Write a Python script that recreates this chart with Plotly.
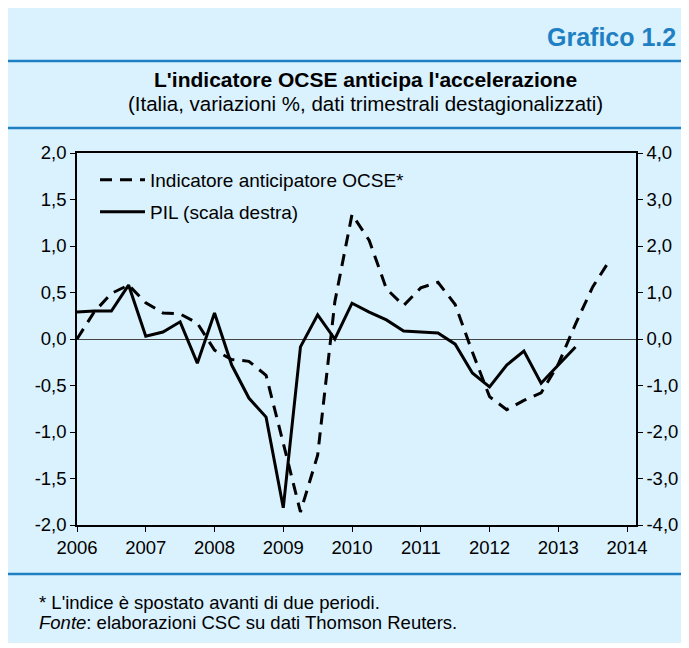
import plotly.graph_objects as go

# ---- data ----
quarters = [2006 + i / 4 for i in range(32)]
ocse = [0.00, 0.29, 0.49, 0.58, 0.39, 0.28, 0.27, 0.17,
        -0.12, -0.22, -0.24, -0.39, -1.12, -1.86, -1.25, 0.40,
        1.34, 1.06, 0.54, 0.36, 0.55, 0.61, 0.37, -0.14,
        -0.62, -0.76, -0.66, -0.58, -0.27, 0.16, 0.56, 0.85]
pil = [0.58, 0.60, 0.60, 1.16, 0.06, 0.15, 0.37, -0.52,
       0.56, -0.56, -1.27, -1.68, -3.63, -0.17, 0.52, 0.00,
       0.77, 0.58, 0.41, 0.17, 0.15, 0.13, -0.11, -0.73,
       -1.03, -0.56, -0.26, -0.95, -0.56, -0.17]
year_ticks = [2006, 2007, 2008, 2009, 2010, 2011, 2012, 2013, 2014]
year_labels = [str(y) for y in year_ticks]
left_ticks = [-2.0, -1.5, -1.0, -0.5, 0.0, 0.5, 1.0, 1.5, 2.0]
left_labels = ["-2,0", "-1,5", "-1,0", "-0,5", "0,0", "0,5", "1,0", "1,5", "2,0"]
right_ticks = [-4, -3, -2, -1, 0, 1, 2, 3, 4]
right_labels = ["-4,0", "-3,0", "-2,0", "-1,0", "0,0", "1,0", "2,0", "3,0", "4,0"]

FONT = "Liberation Sans, Arial, sans-serif"
BG = "#DAF1FE"
BLUE = "#1E80C3"

OFF = 8  # page body margin
W, H = 689 - OFF, 648 - OFF
# plot area in page pixels
PL, PR, PT, PB = 77, 636, 153, 525
L, R, T, B = PL - OFF, PR - OFF, PT - OFF, PB - OFF


def px(xp):  # page x -> paper
    return (xp - OFF - L) / (R - L)


def py(yp):  # page y -> paper
    return (B - (yp - OFF)) / (B - T)


fig = go.Figure()
fig.add_trace(go.Scatter(
    x=quarters[:len(ocse)], y=ocse, mode="lines",
    name="Indicatore anticipatore OCSE*",
    line=dict(color="black", width=3, dash="12px,8px"),
    yaxis="y", legend="legend"))
fig.add_trace(go.Scatter(
    x=quarters[:len(pil)], y=pil, mode="lines",
    name="PIL (scala destra)",
    line=dict(color="black", width=3),
    yaxis="y2", legend="legend2"))

shapes = [
    dict(type="rect", xref="paper", yref="paper", x0=px(0), x1=px(700),
         y0=py(643), y1=py(8), fillcolor=BG, line=dict(width=0), layer="below"),
]
for yl in (61, 128, 574):
    shapes.append(dict(type="line", xref="paper", yref="paper", x0=px(0), x1=px(700),
                       y0=py(yl), y1=py(yl), line=dict(color=BLUE, width=2.5)))

annotations = [
    dict(text="<b>Grafico 1.2</b>", xref="paper", yref="paper", x=px(678), y=py(37),
         xanchor="right", yanchor="middle", showarrow=False,
         font=dict(family=FONT, size=25, color=BLUE)),
    dict(text="<b>L'indicatore OCSE anticipa l'accelerazione</b>", xref="paper", yref="paper",
         x=px(366), y=py(80), xanchor="center", yanchor="middle", showarrow=False,
         font=dict(family=FONT, size=21, color="black")),
    dict(text="(Italia, variazioni %, dati trimestrali destagionalizzati)", xref="paper", yref="paper",
         x=px(366), y=py(104), xanchor="center", yanchor="middle", showarrow=False,
         font=dict(family=FONT, size=20.5, color="black")),
    dict(text="* L'indice è spostato avanti di due periodi.", xref="paper", yref="paper",
         x=px(37), y=py(602), xanchor="left", yanchor="middle", showarrow=False,
         font=dict(family=FONT, size=18.5, color="black")),
    dict(text="<i>Fonte</i>: elaborazioni CSC su dati Thomson Reuters.", xref="paper", yref="paper",
         x=px(37), y=py(622), xanchor="left", yanchor="middle", showarrow=False,
         font=dict(family=FONT, size=18.5, color="black")),
]

axis_common = dict(showgrid=False, ticks="outside", ticklen=5, tickwidth=1,
                   tickcolor="black", showline=True, linecolor="black", linewidth=1.5,
                   tickfont=dict(family=FONT, size=18.5, color="black"))

fig.update_layout(
    width=W, height=H,
    margin=dict(l=L, r=W - R, t=T, b=H - B),
    paper_bgcolor="white", plot_bgcolor=BG,
    font=dict(family=FONT, size=18, color="black"),
    showlegend=True,
    shapes=shapes, annotations=annotations,
    xaxis=dict(range=[2006, 2014.13], tickvals=year_ticks, ticktext=year_labels,
               mirror=True, zeroline=False, **axis_common),
    yaxis=dict(range=[-2, 2], tickvals=left_ticks, ticktext=left_labels,
               zeroline=True, zerolinecolor="#444", zerolinewidth=1, **axis_common),
    yaxis2=dict(range=[-4, 4], tickvals=right_ticks, ticktext=right_labels,
                overlaying="y", side="right", zeroline=False, **axis_common),
    legend=dict(x=px(95), y=py(180), xanchor="left", yanchor="middle", itemwidth=45,
                bgcolor="rgba(0,0,0,0)", font=dict(family=FONT, size=19, color="black")),
    legend2=dict(x=px(95), y=py(212), xanchor="left", yanchor="middle", itemwidth=45,
                 bgcolor="rgba(0,0,0,0)", font=dict(family=FONT, size=19, color="black")),
)

fig.write_html("out.html")
